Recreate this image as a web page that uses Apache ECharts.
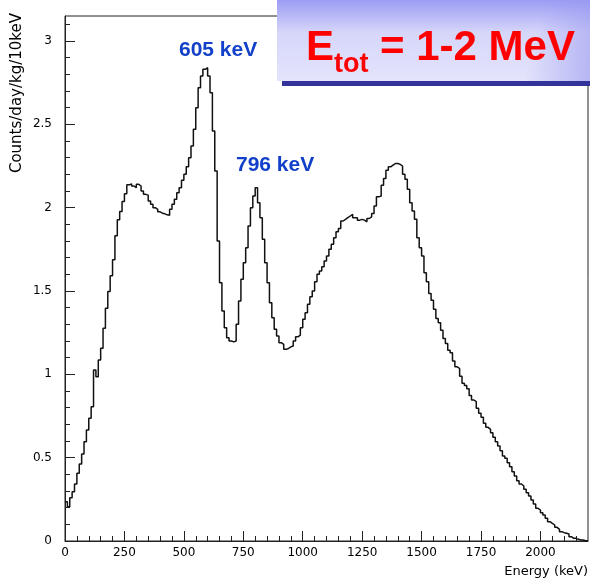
<!DOCTYPE html>
<html>
<head>
<meta charset="utf-8">
<script src="https://cdn.jsdelivr.net/npm/echarts@6/dist/echarts.min.js"></script>
<style>html,body{margin:0;padding:0;background:#fff}#c{width:590px;height:583px}</style>
</head>
<body>
<div id="c"></div>
<script>
// Histogram: counts/day/kg/10keV, 10 keV bins starting at 0 keV
var binWidth = 10;
var counts0to550 = [0.236,0.206,0.26,0.296,0.342,0.406,0.462,0.522,0.596,0.666,
  0.737,0.806,1.026,0.986,1.086,1.157,1.277,1.397,1.497,1.591,
  1.687,1.831,1.927,1.977,2.037,2.083,2.137,2.143,2.13,2.12,
  2.14,2.13,2.10,2.08,2.075,2.04,2.02,2.00,1.99,1.975,
  1.967,1.963,1.957,1.955,1.99,2.02,2.05,2.09,2.12,2.165,
  2.20,2.245,2.30,2.37,2.47];
var counts550to1100 = [2.60,2.72,2.79,2.83,2.84,2.79,2.69,2.46,2.22,1.80,
  1.55,1.38,1.28,1.22,1.20,1.195,1.20,1.30,1.44,1.57,
  1.67,1.76,1.89,2.00,2.07,2.12,2.03,1.94,1.81,1.67,
  1.55,1.43,1.34,1.27,1.23,1.19,1.18,1.15,1.155,1.165,
  1.17,1.20,1.225,1.235,1.28,1.33,1.37,1.42,1.465,1.50,
  1.555,1.60,1.62,1.645,1.68];
var counts1100to1650 = [1.71,1.75,1.78,1.82,1.855,1.875,1.92,1.93,1.94,1.95,
  1.96,1.94,1.94,1.925,1.93,1.925,1.915,1.935,1.945,1.965,
  2.01,2.065,2.07,2.135,2.175,2.225,2.245,2.255,2.265,2.265,
  2.26,2.25,2.20,2.17,2.11,2.03,1.98,1.93,1.82,1.76,
  1.71,1.61,1.555,1.485,1.445,1.39,1.335,1.31,1.265,1.215,
  1.185,1.145,1.13,1.08,1.045];
var counts1650to2200 = [1.035,0.988,0.946,0.933,0.914,0.873,0.846,0.836,0.796,0.766,
  0.742,0.706,0.682,0.670,0.650,0.622,0.596,0.570,0.542,0.510,
  0.496,0.470,0.446,0.416,0.390,0.362,0.342,0.330,0.310,0.290,
  0.270,0.246,0.222,0.196,0.186,0.170,0.156,0.136,0.116,0.106,
  0.096,0.082,0.070,0.056,0.050,0.046,0.042,0.026,0.016,0.016,
  0.010,0.006,0.006,0.002,0.002];

var xMin = 0, xMax = 2200, xMajor = 250, xMinor = 50;
var yMin = 0, yMax = 3.15, yMajor = 0.5, yMinor = 0.1;
var yTitle = 'Counts/day/kg/10keV';
var xTitle = 'Energy (keV)';
var peakLabels = ['605 keV', '796 keV'];

var W = 590, H = 583, G = {left: 65, right: 2, top: 16, bottom: 42};

var counts = counts0to550.concat(counts550to1100, counts1100to1650, counts1650to2200);
var data = counts.map(function (v, i) { return [i * binWidth, v]; });
data.push([counts.length * binWidth, counts[counts.length - 1]]);

// inward ROOT-style tick marks, as short segments in data space (major 10 px, minor 5 px)
var yPerPx = (yMax - yMin) / (H - G.top - G.bottom);
var xPerPx = (xMax - xMin) / (W - G.left - G.right);
var tickSegs = [];
for (var tx = xMin + xMinor; tx < xMax; tx += xMinor) {
  var lx = (tx % xMajor === 0 ? 10 : 5) * yPerPx;
  tickSegs.push({coords: [[tx, yMin], [tx, yMin + lx]]});
}
for (var ti = 1; ti * yMinor < yMax - 1e-9; ti++) {
  var ty = Math.round(ti * yMinor * 1000) / 1000;
  var ly = (ti % 5 === 0 ? 10 : 5) * xPerPx;
  tickSegs.push({coords: [[xMin, ty], [xMin + ly, ty]]});
}

var chart = echarts.init(document.getElementById('c'));
function plain(v) { return String(Math.round(v * 1000) / 1000); }

chart.setOption({
  animation: false,
  grid: {left: G.left, right: G.right, top: G.top, bottom: G.bottom, show: true, borderColor: '#222', borderWidth: 1},
  xAxis: {type: 'value', min: xMin, max: xMax, interval: xMajor, position: 'bottom',
    axisLine: {show: true, lineStyle: {color: '#222'}}, axisTick: {show: false}, splitLine: {show: false},
    axisLabel: {margin: 6, showMaxLabel: false, formatter: plain, fontFamily: 'DejaVu Sans', fontSize: 12, color: '#000'}},
  yAxis: {type: 'value', min: yMin, max: yMax, interval: yMajor, position: 'left',
    axisLine: {show: true, lineStyle: {color: '#222'}}, axisTick: {show: false}, splitLine: {show: false},
    axisLabel: {margin: 13, showMaxLabel: false, formatter: plain, fontFamily: 'DejaVu Sans', fontSize: 12, color: '#000'}},
  series: [{
    type: 'line', step: 'end', data: data,
    symbol: 'none', lineStyle: {color: '#111', width: 1.5}
  }, {
    type: 'lines', coordinateSystem: 'cartesian2d', data: tickSegs, silent: true, z: 3,
    symbol: ['none', 'none'], lineStyle: {color: '#222', width: 1, opacity: 1, curveness: 0}
  }],
  graphic: [
    {type: 'text', x: 17, y: 13, rotation: Math.PI / 2, z: 50,
      style: {text: yTitle, font: '15px "DejaVu Sans"', fill: '#000', align: 'right', verticalAlign: 'middle'}},
    {type: 'text', x: 588, y: 572, z: 50,
      style: {text: xTitle, font: '13px "DejaVu Sans"', fill: '#000', align: 'right', verticalAlign: 'middle'}},
    {type: 'text', x: 179, y: 50, z: 50,
      style: {text: peakLabels[0], font: 'bold 21px "Liberation Sans"', fill: '#1240c8', align: 'left', verticalAlign: 'middle'}},
    {type: 'text', x: 236, y: 165, z: 50,
      style: {text: peakLabels[1], font: 'bold 21px "Liberation Sans"', fill: '#1240c8', align: 'left', verticalAlign: 'middle'}},
    {type: 'rect', z: 100, shape: {x: 282, y: 81, width: 308, height: 5}, style: {fill: '#333399'}},
    {type: 'rect', z: 101, shape: {x: 277, y: 0, width: 313, height: 81},
      style: {fill: {type: 'linear', x: 0, y: 0, x2: 0, y2: 1, colorStops: [
        {offset: 0, color: '#9c9cf4'}, {offset: 0.4, color: '#d6d6fa'}, {offset: 1, color: '#e4e4fc'}]}}},
    {type: 'rect', z: 102, shape: {x: 277, y: 0, width: 313, height: 81},
      style: {fill: {type: 'linear', x: 0, y: 0, x2: 1, y2: 1, colorStops: [
        {offset: 0, color: 'rgba(150,150,240,0)'}, {offset: 0.8, color: 'rgba(150,150,240,0)'}, {offset: 1, color: 'rgba(150,150,240,0.6)'}]}}},
    {type: 'text', x: 306, y: 48, z: 110,
      style: {text: 'E', font: 'bold 42px "Liberation Sans"', fill: '#ff0000', align: 'left', verticalAlign: 'middle'}},
    {type: 'text', x: 334, y: 65, z: 110,
      style: {text: 'tot', font: 'bold 27px "Liberation Sans"', fill: '#ff0000', align: 'left', verticalAlign: 'middle'}},
    {type: 'text', x: 380, y: 48, z: 110,
      style: {text: '= 1-2 MeV', font: 'bold 42px "Liberation Sans"', fill: '#ff0000', align: 'left', verticalAlign: 'middle'}}
  ]
});
</script>
</body>
</html>
